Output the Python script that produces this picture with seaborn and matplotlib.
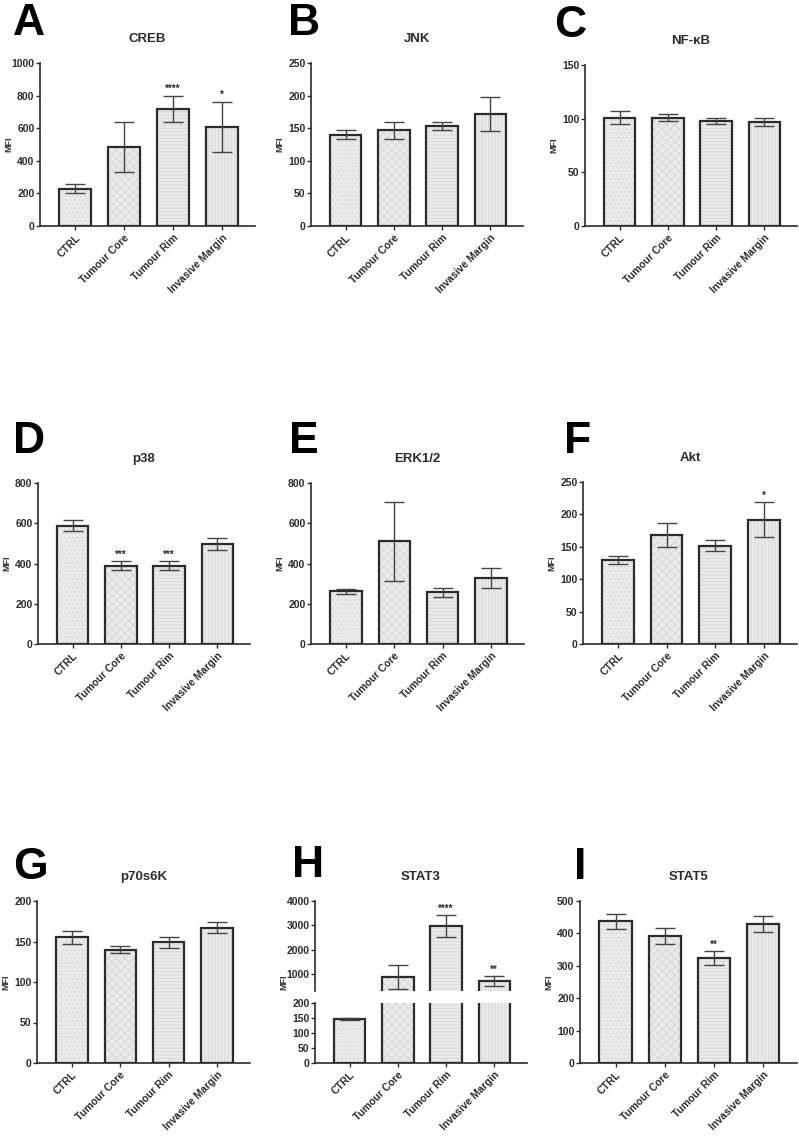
import matplotlib
matplotlib.use("Agg")
import matplotlib.pyplot as plt
import seaborn as sns
import numpy as np
import pandas as pd

sns.set_theme(style="ticks")
plt.rcParams['font.family'] = ['Liberation Sans', 'DejaVu Sans']
plt.rcParams['font.weight'] = 'bold'
plt.rcParams['hatch.linewidth'] = 0.5

categories = ["CTRL", "Tumour Core", "Tumour Rim", "Invasive Margin"]

creb_mean = [230, 485, 720, 610]
creb_err = [25, 153, 80, 153]
creb_sig = ["", "", "****", "*"]

jnk_mean = [140, 147, 153, 172]
jnk_err = [7, 13, 6, 26]
jnk_sig = ["", "", "", ""]

nfkb_mean = [101, 101, 98, 97]
nfkb_err = [6, 3.5, 3, 3.5]
nfkb_sig = ["", "", "", ""]

p38_mean = [588, 390, 388, 495]
p38_err = [28, 22, 22, 30]
p38_sig = ["", "***", "***", ""]

erk_mean = [262, 510, 258, 330]
erk_err = [12, 195, 22, 50]
erk_sig = ["", "", "", ""]

akt_mean = [130, 168, 152, 192]
akt_err = [6, 18, 8, 27]
akt_sig = ["", "", "", "*"]

p70_mean = [155, 140, 149, 167]
p70_err = [8, 4.5, 7, 7]
p70_sig = ["", "", "", ""]

stat3_mean = [147, 870, 2970, 710]
stat3_err = [4, 480, 470, 200]
stat3_sig = ["", "", "****", "**"]

stat5_mean = [437, 393, 323, 430]
stat5_err = [22, 25, 22, 25]
stat5_sig = ["", "", "**", ""]

W, H = 799, 1144
fig = plt.figure(figsize=(W / 100, H / 100), dpi=100)

DARK = "#2b2b2b"
FACE = "#eaeaea"
HATCHC = "#d2d2d2"
hatches = ["....", "xxxx", "-----", "|||||"]
XLIM = (-0.72, 3.68)
MFI_OFFSET = 31  # px left of spine


def px_axes(l, t, r, b):
    return fig.add_axes([l / W, 1 - b / H, (r - l) / W, (b - t) / H])


def style_axes(ax, show_x=True):
    for s in ["top", "right"]:
        ax.spines[s].set_visible(False)
    for s in ["left", "bottom"]:
        ax.spines[s].set_color(DARK)
        ax.spines[s].set_linewidth(1.2)
    ax.tick_params(axis="y", direction="out", length=3, width=1, color=DARK,
                   labelsize=7.5, labelcolor=DARK, pad=1)
    ax.tick_params(axis="x", direction="out", length=3, width=1, color=DARK,
                   labelsize=7.5, labelcolor=DARK, pad=2)
    for lab in ax.get_yticklabels():
        lab.set_fontweight("bold")
    ax.set_xlim(*XLIM)
    ax.grid(False)
    ax.set_facecolor("none")
    if show_x:
        ax.set_xticks(range(len(categories)))
        ax.set_xticklabels(categories, rotation=45, ha="right",
                           rotation_mode="anchor", fontweight="bold",
                           fontsize=7.5, color=DARK)
    ax.set_xlabel("")
    ax.set_ylabel("")


def draw_bars(ax, means, errs):
    df = pd.DataFrame({"cat": categories, "val": means})
    sns.barplot(data=df, x="cat", y="val", ax=ax, color=FACE, width=0.65,
                edgecolor=HATCHC, linewidth=0, errorbar=None, saturation=1)
    for p, h in zip(ax.patches, hatches):
        p.set_hatch(h)
        p.set_linewidth(0)
    sns.barplot(data=df, x="cat", y="val", ax=ax, fill=False, width=0.65,
                edgecolor=DARK, linewidth=1.6, errorbar=None)
    ax.errorbar(range(len(means)), means, yerr=errs, fmt="none",
                ecolor="#444444", elinewidth=1.0, capsize=7, capthick=1.0,
                zorder=5)


def add_sig(ax, means, errs, sigs, offset):
    for i, (m, e, s) in enumerate(zip(means, errs, sigs)):
        if s:
            ax.text(i, m + e + offset, s, ha="center", va="bottom",
                    fontsize=7, color=DARK, fontweight="bold")


def mfi(x_spine, y_center):
    fig.text((x_spine - MFI_OFFSET) / W, 1 - y_center / H, "MFI", rotation=90,
             ha="center", va="center", fontsize=6.5, fontweight="bold",
             color=DARK)


def letter(text, x, y_top):
    fig.text(x / W, 1 - y_top / H, text, ha="center", va="top", fontsize=32,
             fontweight="bold", color="black")


def panel(rect, means, errs, sigs, ylim, ticks, title, let, let_xy):
    l, t, r, b = rect
    ax = px_axes(l, t, r, b)
    draw_bars(ax, means, errs)
    ax.set_ylim(*ylim)
    ax.set_yticks(ticks)
    style_axes(ax)
    mfi(l, (t + b) / 2)
    add_sig(ax, means, errs, sigs, ylim[1] * 0.01)
    fig.text((l + r) / 2 / W, 1 - (t - 24) / H, title, ha="center",
             va="center", fontsize=9.5, fontweight="bold", color=DARK)
    letter(let, *let_xy)
    return ax


panel((40, 63, 255, 226), creb_mean, creb_err, creb_sig, (0, 1000),
      [0, 200, 400, 600, 800, 1000], "CREB", "A", (29, 3))
panel((311, 63, 523, 226), jnk_mean, jnk_err, jnk_sig, (0, 250),
      [0, 50, 100, 150, 200, 250], "JNK", "B", (304, 3))
panel((585, 65, 797, 226), nfkb_mean, nfkb_err, nfkb_sig, (0, 150),
      [0, 50, 100, 150], "NF-\u03baB", "C", (570, 5))
panel((38, 483, 250, 644), p38_mean, p38_err, p38_sig, (0, 800),
      [0, 200, 400, 600, 800], "p38", "D", (29, 421))
panel((311, 483, 524, 644), erk_mean, erk_err, erk_sig, (0, 800),
      [0, 200, 400, 600, 800], "ERK1/2", "E", (304, 421))
panel((583, 482, 797, 644), akt_mean, akt_err, akt_sig, (0, 250),
      [0, 50, 100, 150, 200, 250], "Akt", "F", (578, 421))
panel((37, 901, 250, 1063), p70_mean, p70_err, p70_sig, (0, 200),
      [0, 50, 100, 150, 200], "p70s6K", "G", (30, 847))
panel((580, 901, 797, 1063), stat5_mean, stat5_err, stat5_sig, (0, 500),
      [0, 100, 200, 300, 400, 500], "STAT5", "I", (580, 847))

# Panel H: broken axis
l, r = 315, 527
ax_top = px_axes(l, 901, r, 991)
ax_bot = px_axes(l, 1003, r, 1063)
draw_bars(ax_top, stat3_mean, stat3_err)
draw_bars(ax_bot, stat3_mean, stat3_err)
ax_top.set_ylim(300, 4000)
ax_top.set_yticks([1000, 2000, 3000, 4000])
ax_bot.set_ylim(0, 200)
ax_bot.set_yticks([0, 50, 100, 150, 200])
style_axes(ax_top, show_x=False)
style_axes(ax_bot)
ax_top.spines["bottom"].set_visible(False)
ax_top.set_xticks([])
add_sig(ax_top, stat3_mean, stat3_err, stat3_sig, 40)
mfi(l, 982)
fig.text((l + r) / 2 / W, 1 - 877 / H, "STAT3", ha="center", va="center",
         fontsize=9.5, fontweight="bold", color=DARK)
letter("H", 308, 845)

fig.savefig("out.png", dpi=100, facecolor="white")
